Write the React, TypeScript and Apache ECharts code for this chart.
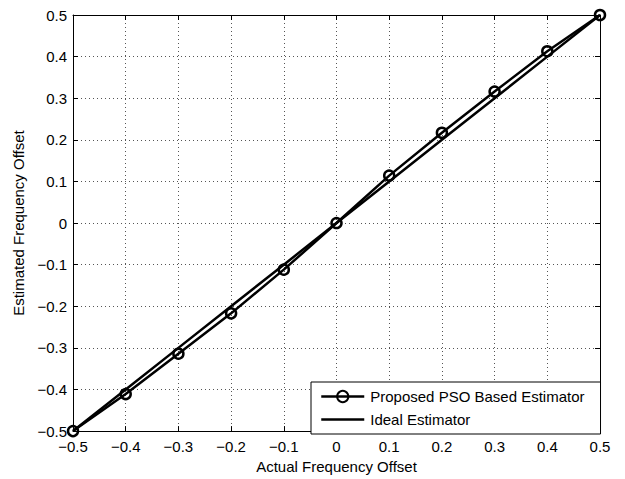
import React, { useEffect, useRef } from "react";
import * as echarts from "echarts";

const actualOffset = [-0.5, -0.4, -0.3, -0.2, -0.1, 0, 0.1, 0.2, 0.3, 0.4, 0.5];
const psoEstimate = [-0.5, -0.411, -0.314, -0.217, -0.112, 0, 0.114, 0.217, 0.316, 0.413, 0.5];
const idealEstimate = [-0.5, -0.4, -0.3, -0.2, -0.1, 0, 0.1, 0.2, 0.3, 0.4, 0.5];
const seriesNames = ["Proposed PSO Based Estimator", "Ideal Estimator"];
const xAxisTitle = "Actual Frequency Offset";
const yAxisTitle = "Estimated Frequency Offset";

const FONT = "'Liberation Sans', Arial, Helvetica, sans-serif";
const fmt = (v: number) => {
  const r = Math.round(v * 10) / 10;
  if (r === 0) return "0";
  return (r < 0 ? "\u2212" : "") + Math.abs(r).toFixed(1);
};

export default function App() {
  const ref = useRef<HTMLDivElement>(null);
  useEffect(() => {
    if (!ref.current) return;
    const chart = echarts.init(ref.current, undefined, { renderer: "svg" });
    const axisCommon = {
      type: "value" as const,
      min: -0.5,
      max: 0.5,
      interval: 0.1,
      axisLine: { show: true, onZero: false, lineStyle: { color: "#000", width: 1 } },
      axisTick: { show: true, inside: true, length: 5, lineStyle: { color: "#000" } },
    };
    const gridLine = { show: true, lineStyle: { color: "#555", width: 1, type: [1, 3] as any } };
    chart.setOption({
      animation: false,
      backgroundColor: "#fff",
      textStyle: { fontFamily: FONT },
      grid: { left: 73, right: 25, top: 15, bottom: 46, containLabel: false },
      legend: {
        orient: "vertical",
        left: 311,
        top: 382,
        selectedMode: false,
        backgroundColor: "#fff",
        borderColor: "#000",
        borderWidth: 1,
        borderRadius: 0,
        padding: [7, 16, 7, 9],
        itemWidth: 43,
        itemHeight: 14,
        itemGap: 8,
        lineStyle: { width: 2.5, color: "#000" },
        textStyle: { fontFamily: FONT, fontSize: 15, color: "#000", padding: [0, 0, 0, 1] },
        data: seriesNames,
      },
      xAxis: [
        {
          ...axisCommon,
          position: "bottom",
          name: xAxisTitle,
          nameLocation: "middle",
          nameGap: 24,
          nameTextStyle: { fontFamily: FONT, fontSize: 15, color: "#000" },
          axisLabel: { show: true, margin: 8, color: "#000", fontFamily: FONT, fontSize: 15, formatter: fmt },
          splitLine: gridLine,
        },
        {
          ...axisCommon,
          position: "top",
          axisLabel: { show: false },
          splitLine: { show: false },
        },
      ],
      yAxis: [
        {
          ...axisCommon,
          position: "left",
          name: yAxisTitle,
          nameLocation: "middle",
          nameGap: 45,
          nameTextStyle: { fontFamily: FONT, fontSize: 15, color: "#000" },
          axisLabel: { show: true, margin: 6, color: "#000", fontFamily: FONT, fontSize: 15, formatter: fmt },
          splitLine: gridLine,
        },
        {
          ...axisCommon,
          position: "right",
          axisLabel: { show: false },
          splitLine: { show: false },
        },
      ],
      series: [
        {
          name: seriesNames[0],
          type: "line",
          data: actualOffset.map((x, i) => [x, psoEstimate[i]]),
          symbol: "circle",
          symbolSize: 10,
          showAllSymbol: true,
          clip: false,
          lineStyle: { color: "#000", width: 2.5 },
          itemStyle: { color: "rgba(255,255,255,0)", borderColor: "#000", borderWidth: 2.5 },
          emphasis: { disabled: true },
        },
        {
          name: seriesNames[1],
          type: "line",
          data: actualOffset.map((x, i) => [x, idealEstimate[i]]),
          symbol: "circle",
          showSymbol: false,
          symbolSize: 0,
          clip: false,
          lineStyle: { color: "#000", width: 2.5 },
          itemStyle: { color: "rgba(0,0,0,0)", borderColor: "rgba(0,0,0,0)", borderWidth: 0 },
          emphasis: { disabled: true },
        },
      ],
    });
    return () => chart.dispose();
  }, []);
  return (
    <div
      ref={ref}
      style={{ position: "fixed", left: 0, top: 0, width: 625, height: 479, background: "#fff" }}
    />
  );
}
